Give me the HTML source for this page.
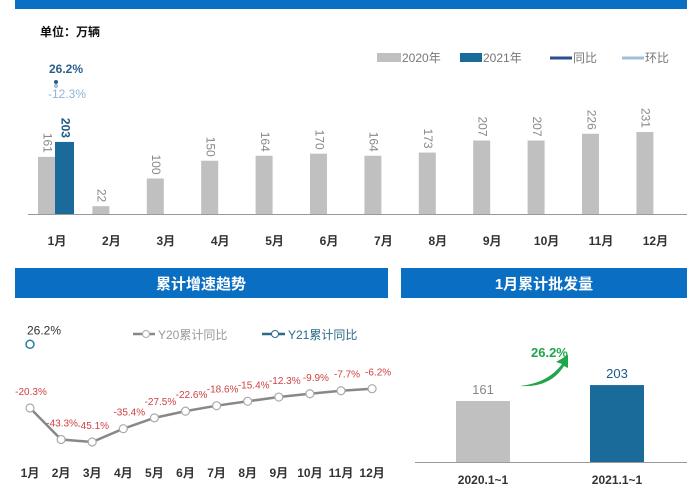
<!DOCTYPE html>
<html><head><meta charset="utf-8"><style>
body{margin:0;background:#fff;font-family:"Liberation Sans","Noto Sans CJK SC",sans-serif;}
svg{display:block}
</style></head><body>
<svg width="700" height="500" viewBox="0 0 700 500" id="root">
<rect x="0" y="0" width="700" height="500" fill="#fff"/>
<rect x="15" y="0" width="672" height="9" fill="#0a6fc2"/>
<text x="40" y="36" font-size="12" font-weight="bold" fill="#111">单位：万辆</text>
<text x="49" y="73" font-size="12" font-weight="bold" fill="#2a5f8e">26.2%</text>
<circle cx="56" cy="82" r="2" fill="#2a5f8e"/>
<circle cx="56" cy="86" r="2" fill="#9cc0de"/>
<text x="48" y="98" font-size="12" fill="#8fb5d8">-12.3%</text>
<g>
<rect x="377" y="53" width="24" height="9" fill="#c0c0c0"/>
<text x="402" y="62" font-size="12" fill="#777">2020年</text>
<rect x="460" y="53" width="22" height="9" fill="#1a6a9a"/>
<text x="483" y="62" font-size="12" fill="#777">2021年</text>
<line x1="550" y1="58" x2="572" y2="58" stroke="#2a4f8a" stroke-width="3"/>
<text x="573" y="62" font-size="12" fill="#777">同比</text>
<line x1="622" y1="58" x2="644" y2="58" stroke="#9cc0de" stroke-width="3"/>
<text x="645" y="62" font-size="12" fill="#777">环比</text>
</g>
<g id="topchart"></g>
<line x1="28" y1="214.5" x2="687" y2="214.5" stroke="#999"/>

<rect x="15" y="268" width="373" height="30" fill="#0a6fc2"/>
<text x="201" y="289" font-size="15" font-weight="bold" fill="#fff" text-anchor="middle">累计增速趋势</text>
<g>
<line x1="133" y1="334" x2="155" y2="334" stroke="#888" stroke-width="2.5"/>
<circle cx="146" cy="334" r="3.5" fill="#fff" stroke="#aaa"/>
<text x="158" y="339" font-size="12" fill="#999">Y20累计同比</text>
<line x1="262" y1="334" x2="285" y2="334" stroke="#2a6a8a" stroke-width="2.5"/>
<circle cx="275" cy="334" r="3.5" fill="#fff" stroke="#2a6a8a"/>
<text x="288" y="339" font-size="12" fill="#2a6a8a">Y21累计同比</text>
</g>
<g id="linechart"></g>

<rect x="401" y="268" width="286" height="30" fill="#0a6fc2"/>
<text x="544" y="289" font-size="15" font-weight="bold" fill="#fff" text-anchor="middle">1月累计批发量</text>
<g id="janchart"></g>
<line x1="415" y1="462.5" x2="687" y2="462.5" stroke="#999"/>
<path d="M520 386 Q548 383 562 364 L556 362 L568 355 L568 368 L564 366 Q550 388 520 386Z" fill="#1fa64a"/>
<text x="531" y="357" font-size="13" font-weight="bold" fill="#1fa64a">26.2%</text>
</svg>
<script>
const months=['1月','2月','3月','4月','5月','6月','7月','8月','9月','10月','11月','12月'];
const v2020=[161,22,100,150,164,170,164,173,207,207,226,231];
const v2021=[203];
const cum20=[-20.3,-43.3,-45.1,-35.4,-27.5,-22.6,-18.6,-15.4,-12.3,-9.9,-7.7,-6.2];
const cum21=[26.2];
const janCats=['2020.1~1','2021.1~1'];
const janVals=[161,203];
(function(){
const NS='http://www.w3.org/2000/svg';
function mk(p,t,a){const e=document.createElementNS(NS,t);for(const k in a)e.setAttribute(k,a[k]);p.appendChild(e);return e;}
const topG=document.getElementById('topchart');
const bx=i=>57+54.4*i, by=v=>214-v*0.355;
months.forEach((m,i)=>{
 const c=bx(i);
 const r=mk(topG,'rect',{x:c-19,y:by(v2020[i]),width:17,height:214-by(v2020[i]),fill:'#c0c0c0'});
 
 
 const tx=c-10.5,ty=by(v2020[i])-4;
 const t=mk(topG,'text',{x:tx,y:ty,'font-size':12,fill:'#888','text-anchor':'end',transform:`rotate(90 ${tx} ${ty})`,'dominant-baseline':'middle'});
 t.textContent=v2020[i];
 
 
 const l=mk(topG,'text',{x:c,y:245,'font-size':12,'font-weight':'bold',fill:'#333','text-anchor':'middle'});
 l.textContent=m;
 
 
});
v2021.forEach((v,i)=>{
 const c=bx(i);
 const r=mk(topG,'rect',{x:c-2,y:by(v),width:19,height:214-by(v),fill:'#1a6a9a'});
 
 
 const tx=c+7.5,ty=by(v)-4;
 const t=mk(topG,'text',{x:tx,y:ty,'font-size':12,'font-weight':'bold',fill:'#1a5a8a','text-anchor':'end',transform:`rotate(90 ${tx} ${ty})`,'dominant-baseline':'middle'});
 t.textContent=v;
 
 
});
const lc=document.getElementById('linechart');
const lx=i=>30+31.1*i, ly=v=>380.2-1.37*v;
const pts=cum20.map((v,i)=>lx(i)+','+ly(v)).join(' ');
const pl=mk(lc,'polyline',{points:pts,fill:'none',stroke:'#888','stroke-width':2.5});


cum20.forEach((v,i)=>{
 const c=mk(lc,'circle',{cx:lx(i),cy:ly(v),r:4,fill:'#fff',stroke:'#aaa','stroke-width':1.2});
 
 
 const t=mk(lc,'text',{x:lx(i)+(i<3?1:6),y:ly(v)-13,'font-size':10,fill:'#d04040','text-anchor':'middle'});
 t.textContent=v.toFixed(1)+'%';
 
 
 const l=mk(lc,'text',{x:lx(i),y:477,'font-size':12,'font-weight':'bold',fill:'#333','text-anchor':'middle'});
 l.textContent=months[i];
 
 
});
cum21.forEach((v,i)=>{
 const c=mk(lc,'circle',{cx:lx(i),cy:ly(v),r:4,fill:'#fff',stroke:'#2a7aa0','stroke-width':1.5});
 
 
 const t=mk(lc,'text',{x:lx(i)-3,y:ly(v)-10,'font-size':12,fill:'#333'});
 t.textContent=v.toFixed(1)+'%';
 
 
});
const jc=document.getElementById('janchart');
const jx=i=>483+134*i, jy=v=>462-v*0.379;
const jcol=['#c0c0c0','#1a6a9a'], tcol=['#888','#1a5a8a'];
janCats.forEach((c,i)=>{
 const r=mk(jc,'rect',{x:jx(i)-27,y:jy(janVals[i]),width:54,height:462-jy(janVals[i]),fill:jcol[i]});
 
 
 const t=mk(jc,'text',{x:jx(i),y:jy(janVals[i])-7,'font-size':13,fill:tcol[i],'text-anchor':'middle'});
 t.textContent=janVals[i];
 
 
 const l=mk(jc,'text',{x:jx(i),y:484,'font-size':12,'font-weight':'bold',fill:'#333','text-anchor':'middle'});
 l.textContent=c;
 
 
});
})();
</script>
</body></html>
